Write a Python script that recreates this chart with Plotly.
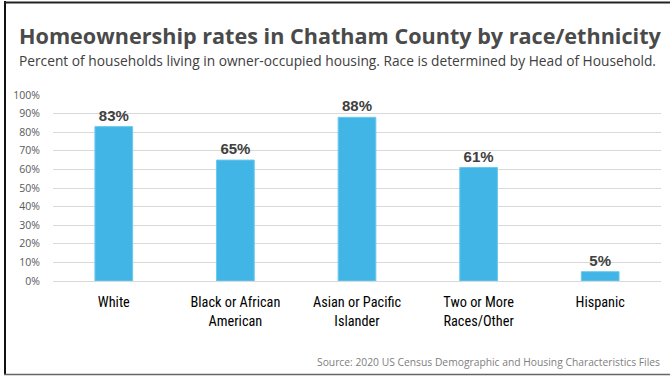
import plotly.graph_objects as go

categories = ["White", "Black or African<br>American", "Asian or Pacific<br>Islander", "Two or More<br>Races/Other", "Hispanic"]
rates = [0.83, 0.65, 0.88, 0.61, 0.05]
labels = ["83%", "65%", "88%", "61%", "5%"]
tick_vals = [0, 0.1, 0.2, 0.3, 0.4, 0.5, 0.6, 0.7, 0.8, 0.9, 1.0]
tick_text = ["0%", "10%", "20%", "30%", "40%", "50%", "60%", "70%", "80%", "90%", "100%"]

title = "Homeownership rates in Chatham County by race/ethnicity"
subtitle = "Percent of households living in owner-occupied housing. Race is determined by Head of Household."
source = "Source: 2020 US Census Demographic and Housing Characteristics Files"

COND = "Roboto Condensed, sans-serif"
OPEN = "Open Sans, sans-serif"

fig = go.Figure(go.Bar(
    x=categories, y=rates, text=labels, textposition="outside",
    textfont=dict(family="Liberation Sans, Arial", size=15, color="#404040", weight="bold"),
    marker=dict(color="#41b6e6", line=dict(color="#6cc8ee", width=1)),
    width=0.31, cliponaxis=False,
))

L, R, T, B = 53, 9, 95, 95
W, H = 670, 376
pw, ph = W - L - R, H - T - B

def px(xp):
    return (xp - L) / pw

def py(yp):
    return (H - B - yp) / ph

fig.update_layout(
    width=W, height=H,
    margin=dict(l=L, r=R, t=T, b=B),
    paper_bgcolor="white", plot_bgcolor="white",
    showlegend=False,
    xaxis=dict(showgrid=False, showline=False, ticks="", ticklabelstandoff=11,
               tickfont=dict(family=COND, size=14.3, color="#000000")),
    yaxis=dict(range=[0, 1.0], tickvals=tick_vals, ticktext=tick_text,
               showgrid=True, gridcolor="#d9d9d9", gridwidth=1,
               zeroline=True, zerolinecolor="#d9d9d9", zerolinewidth=1,
               ticks="", ticklabelstandoff=12,
               tickfont=dict(family=OPEN, size=10.5, color="#595959")),
    annotations=[
        dict(text="<b>" + title + "</b>", xref="paper", yref="paper", x=px(17), xanchor="left",
             y=py(35), yanchor="middle", showarrow=False,
             font=dict(family=OPEN, size=21.6, color="#4a4a4a")),
        dict(text=subtitle, xref="paper", yref="paper", x=px(17), xanchor="left",
             y=py(61), yanchor="middle", showarrow=False,
             font=dict(family=OPEN, size=13.75, color="#404040")),
        dict(text=source, xref="paper", yref="paper", x=px(662), xanchor="right",
             y=py(362), yanchor="middle", showarrow=False,
             font=dict(family=OPEN, size=10.3, color="#808080")),
    ],
    shapes=[
        dict(type="line", xref="paper", yref="paper", x0=px(5), x1=px(5), y0=py(1), y1=py(375),
             line=dict(color="#111111", width=2)),
        dict(type="line", xref="paper", yref="paper", x0=px(4), x1=px(670), y0=py(2.5), y1=py(2.5),
             line=dict(color="#222222", width=2)),
        dict(type="line", xref="paper", yref="paper", x0=px(4), x1=px(670), y0=py(374.5), y1=py(374.5),
             line=dict(color="#666666", width=1.5)),
    ],
)

fig.write_html("out.html", config={"displayModeBar": False},
               post_script="document.body.style.margin='0';")
